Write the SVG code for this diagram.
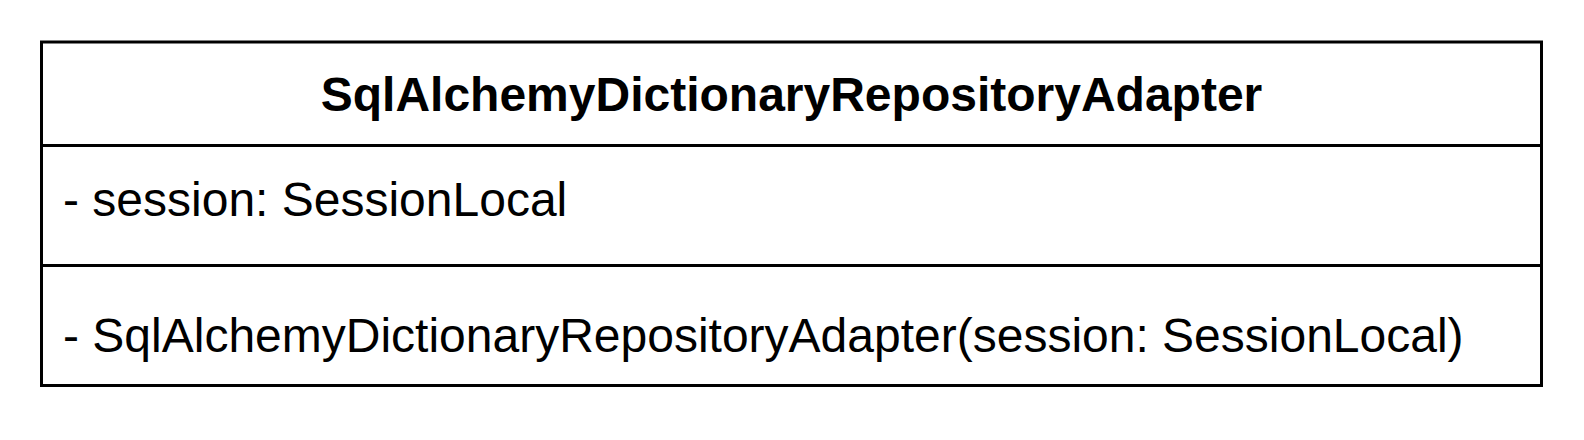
<svg xmlns="http://www.w3.org/2000/svg" width="1584" height="440" viewBox="0 0 1584 440">
<style>
.box{fill:#fff;stroke:#000;stroke-width:3}
.line{stroke:#000;stroke-width:3;fill:none}
.t{font-family:"Liberation Sans",Arial,sans-serif;font-size:48px;fill:#000}
.b{font-weight:bold}
</style>
<rect width="1584" height="440" fill="#fff"/>
<g id="class-SqlAlchemyDictionaryRepositoryAdapter">
<rect class="box" x="41.5" y="42" width="1500" height="343.5"/>
<line class="line" x1="41.5" y1="145.5" x2="1541.5" y2="145.5"/>
<line class="line" x1="41.5" y1="265.5" x2="1541.5" y2="265.5"/>
<text class="t b" x="791.5" y="111" text-anchor="middle">SqlAlchemyDictionaryRepositoryAdapter</text>
<text class="t" x="63" y="216">- session: SessionLocal</text>
<text class="t" x="63" y="352">- SqlAlchemyDictionaryRepositoryAdapter(session: SessionLocal)</text>
</g>
<g id="connectors"></g>
</svg>
